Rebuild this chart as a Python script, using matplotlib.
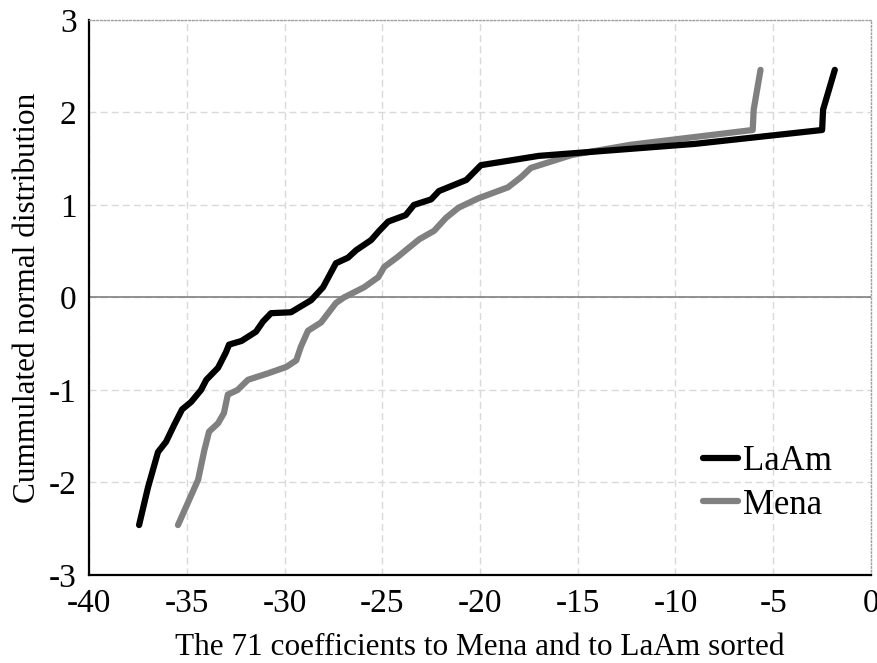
import matplotlib
matplotlib.use('Agg')
import matplotlib.pyplot as plt

# values (sorted coefficient, normal score)
laam_x = [-37.44, -36.98, -36.47, -36.06, -35.65, -35.24, -34.78, -34.27, -34.0, -33.4,
          -32.99, -32.84, -32.2, -31.46, -31.1, -30.69, -29.67, -28.64, -28.03, -27.37,
          -26.75, -26.34, -25.57, -25.2, -24.7, -23.8, -23.38, -22.5, -22.1, -20.7,
          -19.95, -17.0, -9.0, -2.5, -2.45, -1.85]
laam_y = [-2.46, -2.05, -1.67, -1.56, -1.38, -1.21, -1.13, -1.0, -0.89, -0.76,
          -0.59, -0.51, -0.47, -0.37, -0.26, -0.17, -0.16, -0.03, 0.11, 0.37,
          0.43, 0.51, 0.62, 0.71, 0.82, 0.89, 1.0, 1.06, 1.15, 1.27,
          1.43, 1.53, 1.66, 1.81, 2.03, 2.46]

mena_x = [-35.45, -34.42, -34.1, -33.86, -33.4, -33.1, -32.9, -32.4, -31.87, -30.84,
          -29.9, -29.4, -29.16, -28.8, -28.13, -27.37, -26.96, -25.93, -25.2, -24.9,
          -24.2, -23.8, -23.1, -22.35, -21.74, -21.1, -20.1, -18.57, -17.9, -17.4,
          -16.2, -15.3, -12.3, -6.05, -6.0, -5.65]
mena_y = [-2.46, -1.97, -1.65, -1.45, -1.36, -1.25, -1.05, -1.0, -0.89, -0.82,
          -0.75, -0.68, -0.53, -0.36, -0.27, -0.06, 0.0, 0.11, 0.22, 0.33,
          0.44, 0.51, 0.63, 0.72, 0.86, 0.97, 1.07, 1.19, 1.30, 1.40,
          1.48, 1.54, 1.65, 1.81, 2.03, 2.46]

x_ticks = [-40, -35, -30, -25, -20, -15, -10, -5, 0]
y_ticks = [-3, -2, -1, 0, 1, 2, 3]

FONT = 'Liberation Serif'
TICK_SIZE = 24
LABEL_SIZE = 22.5

fig = plt.figure(figsize=(8.78, 6.63), dpi=100)
ax = fig.add_axes([0.1014, 0.1327, 0.8906, 0.8373])

ax.plot(laam_x, laam_y, color='black', linewidth=4.5, solid_capstyle='round',
        solid_joinstyle='round', label='LaAm', zorder=4)
ax.plot(mena_x, mena_y, color='#808080', linewidth=4.5, solid_capstyle='round',
        solid_joinstyle='round', label='Mena', zorder=3)

ax.axhline(0, color='#808080', linewidth=1.2, zorder=2)

ax.set_xlim(-40, 0)
ax.set_ylim(-3, 3)
ax.set_xticks(x_ticks)
ax.set_yticks(y_ticks)
ax.set_xticklabels([str(t) for t in x_ticks], fontsize=TICK_SIZE, family=FONT)
ax.set_yticklabels([str(t) for t in y_ticks], fontsize=TICK_SIZE, family=FONT)
ax.tick_params(axis='x', length=0, pad=10)
ax.tick_params(axis='y', length=0, pad=9)

ax.grid(True, color='#d9d9d9', linestyle=(0, (5, 3)), linewidth=1)
ax.set_axisbelow(True)

for side in ['left', 'bottom']:
    ax.spines[side].set_color('black')
    ax.spines[side].set_linewidth(1.6)
for side in ['top', 'right']:
    ax.spines[side].set_color('#a0a0a0')
    ax.spines[side].set_linestyle(':')
    ax.spines[side].set_linewidth(1)

ax.set_xlabel('The 71 coefficients to Mena and to LaAm sorted', fontsize=LABEL_SIZE,
              family=FONT, labelpad=10)
ax.set_ylabel('Cummulated normal distribution', fontsize=LABEL_SIZE, family=FONT,
              labelpad=5)

ax.legend(loc='center left', bbox_to_anchor=(0.785, 0.165), frameon=False,
          prop={'family': FONT, 'size': 25}, handlelength=1.0, handletextpad=0.15,
          labelspacing=0.3, borderpad=0, borderaxespad=0)

plt.savefig('out.png', dpi=100)
